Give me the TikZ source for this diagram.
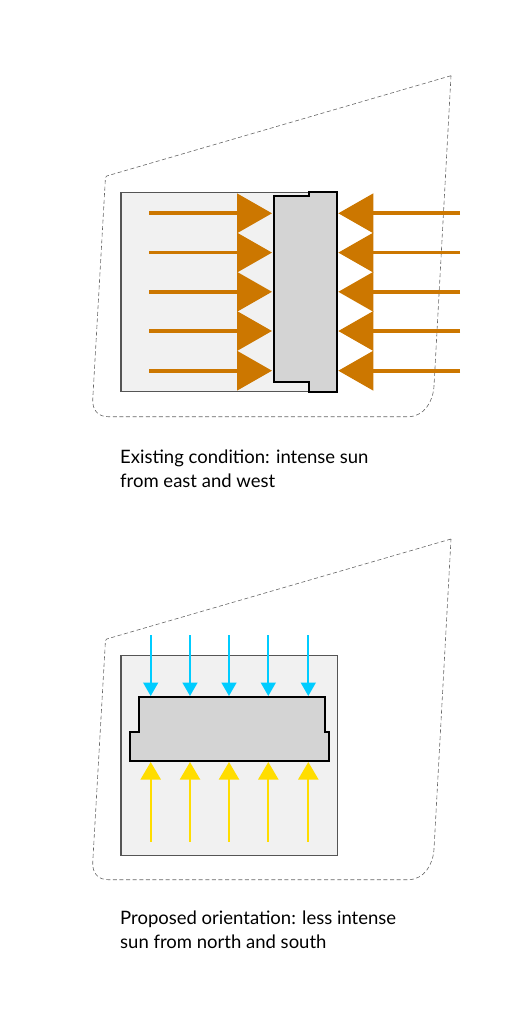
\documentclass[tikz,border=0pt]{standalone}
\usepackage{fontspec}
\setmainfont{Lato}
\usetikzlibrary{arrows.meta,positioning}
\definecolor{sunorange}{HTML}{CC7700}
\definecolor{sunblue}{HTML}{00CCFF}
\definecolor{sunyellow}{HTML}{FFDD00}
\definecolor{lotgray}{HTML}{F1F1F1}
\definecolor{lotline}{HTML}{555555}
\definecolor{massgray}{HTML}{D4D4D4}
\definecolor{siteline}{HTML}{666666}
\tikzset{
  lot/.style={
    draw=lotline,
    fill=lotgray,
    line width=1.1pt,
    inner sep=0pt,
    minimum width=216.7pt,
    minimum height=199.4pt
  },
  mass/.style={
    draw=black,
    fill=massgray,
    line width=2.3pt,
    miter limit=4
  },
  site/.style={
    draw=siteline,
    line width=0.6pt,
    dash pattern=on 4pt off 2.6pt
  },
  hotarrow/.style={
    -{Triangle[length=35pt,width=39pt]},
    line width=3.6pt,
    draw=sunorange,
    sunorange
  },
  coldarrow/.style={
    -{Triangle[length=13.5pt,width=15pt]},
    line width=1.7pt,
    draw=sunblue,
    sunblue
  },
  warmarrow/.style={
    -{Triangle[length=17.5pt,width=20pt]},
    line width=2pt,
    draw=sunyellow,
    sunyellow
  },
  caption/.style={
    font=\fontsize{18.5pt}{23.6pt}\selectfont,
    align=left,
    anchor=north west,
    inner sep=0pt,
    text=black
  }
}
\begin{document}
\begin{tikzpicture}[x=1pt,y=-1pt]
\useasboundingbox (0,0) rectangle (527,1024);

\draw[site] (451,75.7) -- (106.7,176) .. controls (105.5,176.5) and (105.6,178) .. (105.3,180)
  -- (92.7,400) .. controls (92.5,410) and (98,416.7) .. (108,416.7)
  -- (408,416.7) .. controls (424,416.7) and (433,402) .. (434,386) -- cycle;
\draw[site] (451,539) -- (106.7,639) .. controls (105.5,639.5) and (105.6,641) .. (105.3,643)
  -- (92.7,863) .. controls (92.5,873) and (98,879.7) .. (108,879.7)
  -- (408,879.7) .. controls (424,879.7) and (433,865) .. (434,849) -- cycle;

\node[lot] (existing) at (229.3,292) {};
\node[lot] (proposed) at (229.3,755.4) {};

\draw[mass] (274,196) -- (309.3,196) -- (309.3,192.3) -- (337.3,192.3) -- (337.3,391.7)
  -- (309.3,391.7) -- (309.3,382) -- (274,382) -- cycle;
\draw[mass] (139.3,697) -- (325.3,697) -- (325.3,732.3) -- (329.3,732.3) -- (329.3,760.7)
  -- (129.7,760.7) -- (129.7,732.3) -- (139.3,732.3) -- cycle;

\foreach \i/\y in {1/213.3,2/252.6,3/291.8,4/331,5/370.7}{
  \coordinate (westfrom\i) at (149,\y);
  \coordinate (westto\i) at (272,\y);
  \coordinate (eastfrom\i) at (460,\y);
  \coordinate (eastto\i) at (338.3,\y);
  \draw[hotarrow] (westfrom\i) -- (westto\i);
  \draw[hotarrow] (eastfrom\i) -- (eastto\i);
}

\foreach \i/\x in {1/150.7,2/190,3/229,4/268.3,5/308.3}{
  \coordinate (northfrom\i) at (\x,635);
  \coordinate (northto\i) at (\x,696);
  \coordinate (southfrom\i) at (\x,841.7);
  \coordinate (southto\i) at (\x,762);
  \draw[coldarrow] (northfrom\i) -- (northto\i);
  \draw[warmarrow] (southfrom\i) -- (southto\i);
}

\node[caption] (existingtext) at (120,450) {Existing condition: intense sun\\from east and west};
\node[caption] (proposedtext) at (120,911) {Proposed orientation: less intense\\sun from north and south};

\end{tikzpicture}
\end{document}
